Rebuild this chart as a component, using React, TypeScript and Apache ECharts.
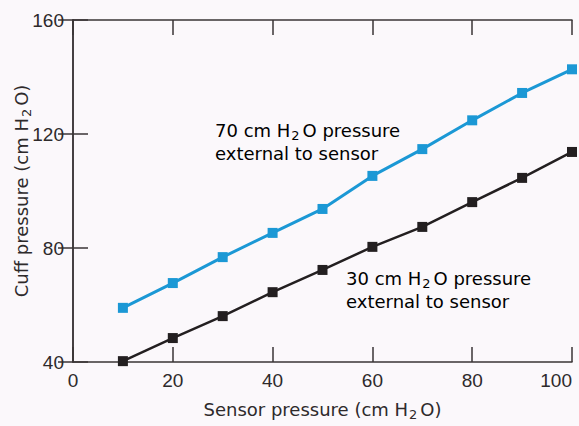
import React, { useEffect, useRef } from "react";
import * as echarts from "echarts";

const sensorPressure = [10, 20, 30, 40, 50, 60, 70, 80, 90, 100];
const cuff70 = [59, 67.7, 76.8, 85.3, 93.7, 105.3, 114.7, 124.8, 134.4, 142.7];
const cuff30 = [40.3, 48.4, 56.1, 64.5, 72.3, 80.4, 87.4, 96.1, 104.6, 113.7];
const xTicks = [0, 20, 40, 60, 80, 100];
const yTicks = [40, 80, 120, 160];

const BLUE = "#1b98d5";
const BLACK = "#231f20";
const TEXT = "#2e2a2b";
const FONT = "'Liberation Sans', Arial, Helvetica, sans-serif";
const WIDE = "'DejaVu Sans', sans-serif";

const richFor = (color: string, size: number) => ({
  n: { fontSize: size, color, fontFamily: WIDE, lineHeight: 23 },
  s: { fontSize: size * 0.72, color, fontFamily: WIDE, lineHeight: 23, verticalAlign: "bottom", padding: [10, 3, 0, 1] },
});

export default function App() {
  const ref = useRef<HTMLDivElement>(null);
  useEffect(() => {
    if (!ref.current) return;
    const chart = echarts.init(ref.current, undefined, { renderer: "svg" });
    const axisLine = { show: true, lineStyle: { color: "#3a3536", width: 1.5 } };
    const tick = { show: true, inside: true, length: 15, lineStyle: { color: "#3a3536", width: 1.5 } };
    const lastX = xTicks[xTicks.length - 1];
    chart.setOption({
      animation: false,
      backgroundColor: "#fbf8fb",
      grid: { left: 73, right: 7, top: 20, bottom: 64, outerBoundsMode: "none", containLabel: false },
      xAxis: [
        {
          type: "value", position: "bottom", min: 0, max: 100, interval: 20,
          axisLine, axisTick: tick, splitLine: { show: false },
          axisLabel: {
            color: TEXT, fontSize: 19, fontFamily: FONT, margin: 9,
            formatter: (v: number) => (v === lastX ? `{r|${v}}` : xTicks.includes(v) ? String(v) : ""),
            rich: { r: { color: TEXT, fontSize: 19, fontFamily: FONT, padding: [0, 0, 0, 0] } },
            alignMaxLabel: "right",
          },
          name: "{n|Sensor pressure (cm H}{s|2}{n|O)}", nameLocation: "middle", nameGap: 36, nameMoveOverlap: false,
          nameTextStyle: { rich: richFor(TEXT, 18) },
        },
        {
          type: "value", position: "top", min: 0, max: 100, interval: 20,
          axisLine, axisTick: tick, splitLine: { show: false }, axisLabel: { show: false },
        },
      ],
      yAxis: [
        {
          type: "value", position: "left", min: 40, max: 160, interval: 40,
          axisLine, axisTick: tick, splitLine: { show: false },
          axisLabel: { color: TEXT, fontSize: 19, fontFamily: FONT, margin: 9, formatter: (v: number) => (yTicks.includes(v) ? String(v) : "") },
          name: "{n|Cuff pressure (cm H}{s|2}{n|O)}", nameLocation: "middle", nameGap: 40, nameMoveOverlap: false,
          nameTextStyle: { rich: richFor(TEXT, 18) },
        },
        {
          type: "value", position: "right", min: 40, max: 160, interval: 40,
          axisLine, axisTick: tick, splitLine: { show: false }, axisLabel: { show: false },
        },
      ],
      series: [
        {
          name: "70 cm H2O", type: "line", data: sensorPressure.map((x, i) => [x, cuff70[i]]),
          symbol: "rect", symbolSize: 10, lineStyle: { color: BLUE, width: 3 }, itemStyle: { color: BLUE },
        },
        {
          name: "30 cm H2O", type: "line", data: sensorPressure.map((x, i) => [x, cuff30[i]]),
          symbol: "rect", symbolSize: 10, lineStyle: { color: BLACK, width: 2.5 }, itemStyle: { color: BLACK },
        },
      ],
      graphic: [
        {
          type: "text", left: 215, top: 119,
          style: { text: "{n|70 cm H}{s|2}{n|O pressure}\n{n|external to sensor}", rich: richFor(BLUE, 18) },
        },
        {
          type: "text", left: 346, top: 267,
          style: { text: "{n|30 cm H}{s|2}{n|O pressure}\n{n|external to sensor}", rich: richFor(TEXT, 18) },
        },
      ],
    });
    return () => chart.dispose();
  }, []);
  return <div ref={ref} style={{ position: "fixed", left: 0, top: 0, width: 579, height: 426 }} />;
}
